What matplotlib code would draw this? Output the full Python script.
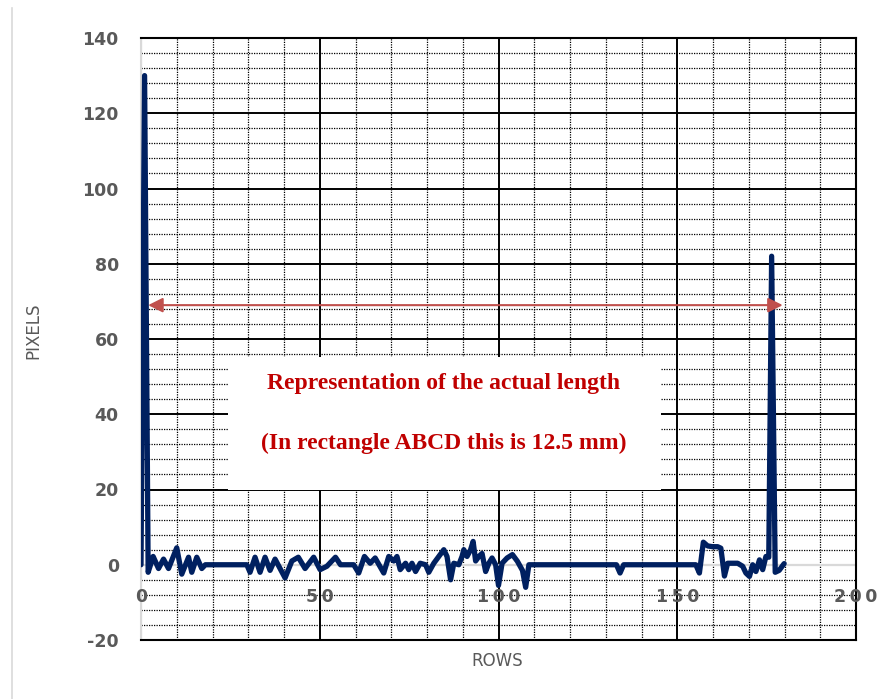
import numpy as np
import matplotlib.pyplot as plt
from matplotlib import transforms
from matplotlib.patches import Rectangle
from matplotlib.lines import Line2D

# row index vs. pixel count
rows = [0, 1, 2, 3.4, 4.9, 6.3, 7.7, 10, 11.4, 13.3, 14.2, 15.6, 17, 18,
        29.6, 30.5, 31.9, 33.3, 34.7, 36.1, 37.5, 38.9, 40.3, 42.2, 44, 45.9,
        48.3, 50.1, 52, 54.4, 55.8, 59.5, 60.9, 62.5, 64.1, 65.5, 67.9, 69.3,
        70.7, 71.6, 72.5, 74, 74.9, 75.8, 76.8, 78.1, 79.6, 80.5, 81.9, 83.3,
        84.7, 85.6, 86.6, 87.5, 88.9, 89.8, 90.3, 91.2, 92.2, 92.9, 93.6, 94.5,
        95.4, 96.4, 97.3, 98.2, 99.2, 100, 101, 102.4, 103.9, 105.3, 106.7,
        107.6, 108.5, 133, 134, 135, 155.2, 156.2, 157.3, 158.5, 159.9, 161.3,
        162.2, 163.2, 164.1, 165.5, 166.9, 168.3, 169.2, 170.2, 171.1, 172,
        173, 173.9, 174.8, 175.6, 176.4, 177.4, 178.5, 179.9]
pixels = [0, 130, -2, 2.2, -1, 1.5, -1, 4.5, -2.5, 2, -2, 2, -1, 0,
          0, -2, 2, -2, 2, -1.5, 1.5, -1, -3.5, 1, 2, -1,
          2, -1.3, -0.4, 2, 0, 0, -2.2, 2.2, 0.4, 1.8, -2.2, 2.2,
          1, 2.2, -1.3, 0.4, -1.3, 0.4, -1.8, 0.4, 0, -2, 0.4, 2.2,
          4, 2.2, -4, 0.4, 0, 2.2, 4, 2.2, 4, 6.2, 1, 2.2,
          3, -1.8, 0.4, 1.8, 0, -5.5, 0.4, 1.8, 2.7, 0.9, -1.5,
          -6, 0, 0, -2.2, 0, 0, -2.2, 6, 5, 4.8, 4.8,
          4.4, -3, 0.4, 0.4, 0.4, -0.4, -2.2, -3.1, 0, -1.8,
          1.3, -1.3, 2.2, 2, 82, -2, -1.5, 0.3]

x_ticks = [0, 50, 100, 150, 200]
y_ticks = [-20, 0, 20, 40, 60, 80, 100, 120, 140]
arrow_start, arrow_end, arrow_level = 2, 179.5, 69
note_lines = ["Representation of the actual length",
              "(In rectangle ABCD this is 12.5 mm)"]

grey = '#595959'
fig = plt.figure(figsize=(8.9, 6.99), dpi=100)
ax = fig.add_axes([141/890, 1-640/699, 715/890, 602/699])
ax.set_xlim(0, 200)
ax.set_ylim(-20, 140)
ax.set_axisbelow(True)

ax.set_xticks(np.arange(0, 201, 10), minor=True)
ax.set_yticks(np.arange(-20, 141, 4), minor=True)
ax.set_xticks(x_ticks)
ax.set_yticks(y_ticks)
ax.grid(which='minor', color='black', linestyle=(0, (1, 1)), linewidth=0.9)
ax.grid(which='major', color='black', linewidth=1.4)
ax.tick_params(which='both', length=0)
ax.tick_params(axis='x', labelbottom=False)
ax.set_yticklabels([str(v) for v in y_ticks], fontsize=12.5, fontweight='bold', color=grey)
ax.tick_params(axis='y', pad=16)

for side in ['top', 'right', 'bottom']:
    ax.spines[side].set_linewidth(1.5)
ax.spines['left'].set_color('#D9D9D9')
ax.spines['left'].set_linewidth(1.5)

# axis lines at zero are grey in the original
ax.axhline(0, color='#D9D9D9', lw=1.6, zorder=0.8)
ax.axvline(0, color='#D9D9D9', lw=1.6, zorder=0.8)

# x tick labels sit under the zero line, letters spread out
lab_tr = transforms.offset_copy(ax.transData, fig=fig, y=-23, units='points')
for t in x_ticks:
    ax.text(t, 0, '\u2009'.join(str(t)), transform=lab_tr, ha='center', va='center',
            fontsize=12.5, fontweight='bold', color=grey)

ax.plot(rows, pixels, color='#002060', lw=3.8, solid_joinstyle='round',
        solid_capstyle='round', zorder=3)

# white note box with red text
ax.add_patch(Rectangle((24.4, 19.9), 121, 35.4, facecolor='white',
                       edgecolor='none', zorder=1))
ax.text(84.6, 48.2, note_lines[0], ha='center', va='center', fontsize=17,
        fontweight='bold', family='Liberation Serif', color='#C00000', zorder=2)
ax.text(84.6, 32.2, note_lines[1], ha='center', va='center', fontsize=17,
        fontweight='bold', family='Liberation Serif', color='#C00000', zorder=2)

ax.annotate('', xy=(arrow_end, arrow_level), xytext=(arrow_start, arrow_level),
            arrowprops=dict(arrowstyle='<|-|>', color='#C0504D', lw=1.5,
                            mutation_scale=22, shrinkA=0, shrinkB=0), zorder=4)

ax.set_ylabel('PIXELS', fontsize=12, color=grey)
ax.yaxis.set_label_coords(-0.138, 0.513)
fig.text(497/890, 1-661/699, 'ROWS', ha='center', va='center', fontsize=12, color=grey)

fig.add_artist(Line2D([12/890, 12/890], [0, 1-8/699], transform=fig.transFigure,
                      color='#D9D9D9', lw=1.2))

fig.savefig('out.png', dpi=100)
